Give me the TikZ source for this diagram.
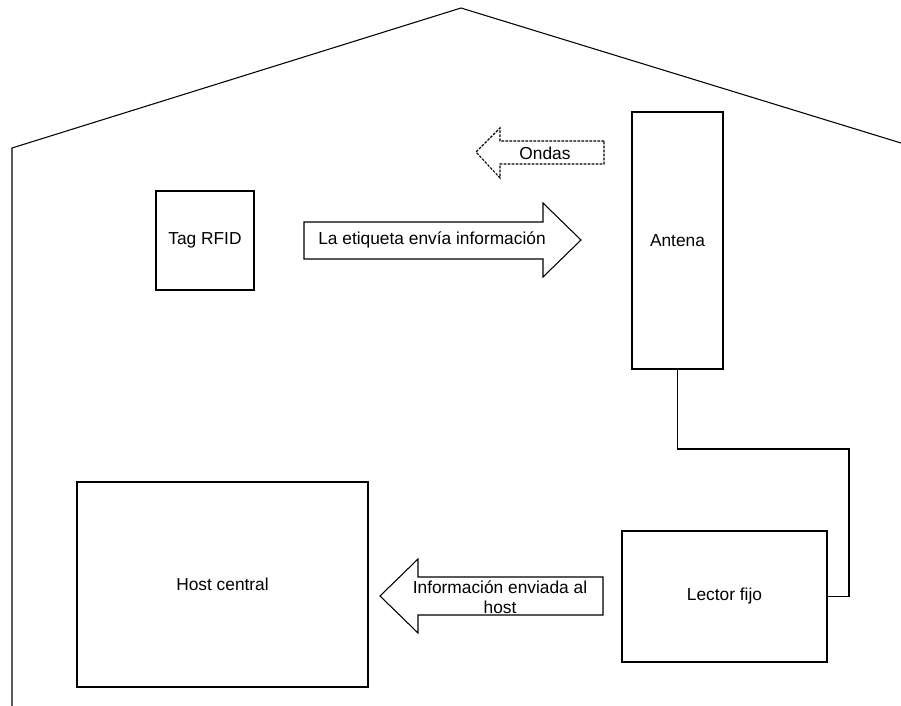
\documentclass[tikz,border=0pt]{standalone}
\usepackage{fontspec}
\setmainfont{Liberation Sans}
\begin{document}
\begin{tikzpicture}[x=0.75pt,y=-0.75pt,
  line width=0.8pt,
  box/.style 2 args={draw, rectangle, minimum width=#1*0.75pt, minimum height=#2*0.75pt, inner sep=0pt},
  lbl/.style={inner sep=0pt, align=center, font=\fontsize{13}{15}\selectfont},
  bigarrow/.style={draw, fill=white, line join=miter},
  wave/.style={bigarrow, dash pattern=on 2pt off 1pt}]
\useasboundingbox (0,0) rectangle (901,706);

% house outline: roof and left wall
\draw (12,706) -- (12,148) -- (461,8) -- (901,143);

% components
\node[box={98}{99}]  (tag)    at (205,240.5) {};
\node[box={91}{257}] (antena) at (677.5,240.5) {};
\node[box={291}{205}] (host)  at (222.5,584.5) {};
\node[box={205}{131}] (lector) at (724.5,596.5) {};

\node[lbl] (tagtxt)    at (tag)    {Tag RFID};
\node[lbl] (antenatxt) at (antena) {Antena};
\node[lbl] (hosttxt)   at (host)   {Host central};
\node[lbl] (lectortxt) at (lector) {Lector fijo};

% cable from antenna to reader
\coordinate (bend) at (849,449);
\draw (antena.south) |- (bend) |- (lector.east);

% block arrows
\draw[wave] (604,141) -- (500,141) -- (500,128) -- (476,152) -- (500,178) -- (500,164) -- (604,164) -- cycle;
\node[lbl] (ondas) at (545,153) {Ondas};

\draw[bigarrow] (304,222) -- (543,222) -- (543,203) -- (581,240) -- (543,277) -- (543,259) -- (304,259) -- cycle;
\node[lbl] (envia) at (432,240) {La etiqueta envía información};

\draw[bigarrow] (603,577) -- (418,577) -- (418,559) -- (380,596) -- (418,633) -- (418,615) -- (603,615) -- cycle;
\node[lbl] (enviada) at (500,597) {Información enviada al\\host};
\end{tikzpicture}
\end{document}
